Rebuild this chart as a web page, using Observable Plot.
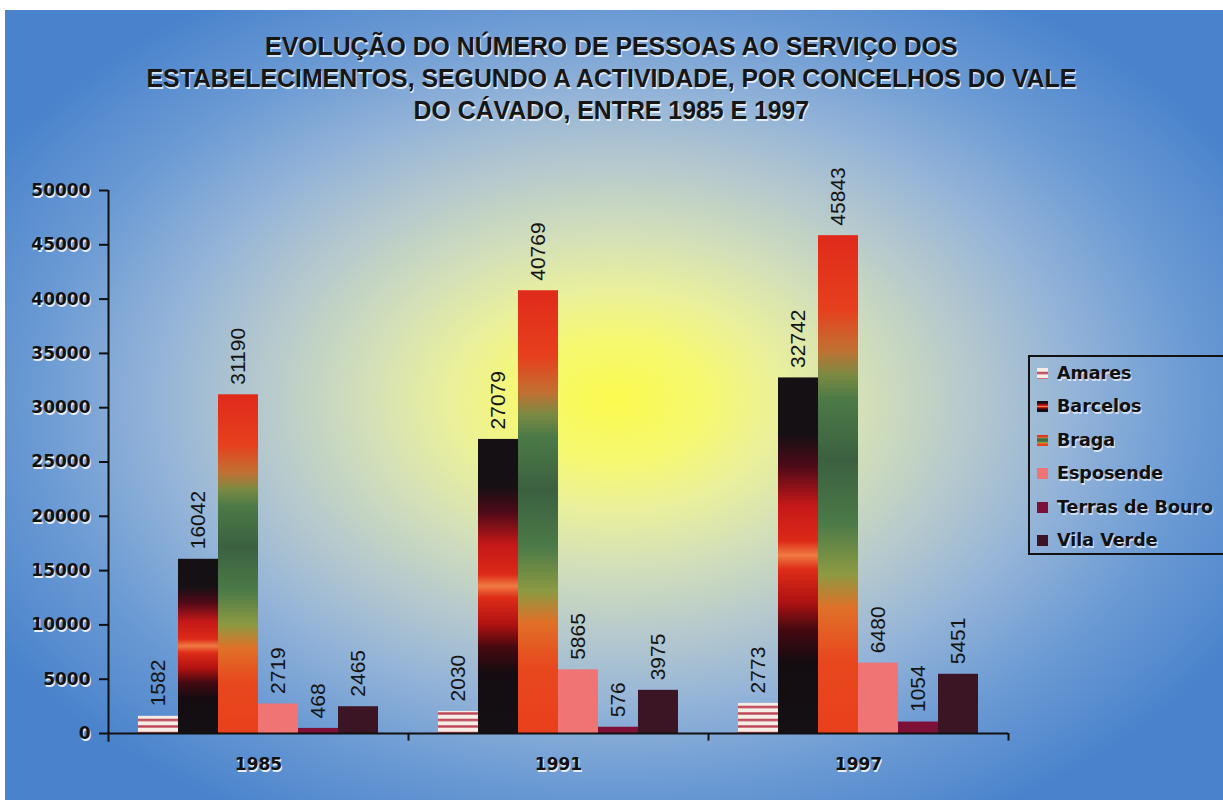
<!DOCTYPE html>
<html>
<head>
<meta charset="utf-8">
<script src="https://cdn.jsdelivr.net/npm/d3@7"></script>
<script src="https://cdn.jsdelivr.net/npm/@observablehq/plot@0.6"></script>
<style>
  html, body { margin: 0; padding: 0; }
  body { width: 1223px; height: 800px; overflow: hidden; position: relative; background: #fff; font-family: "Liberation Sans", Arial, sans-serif; }
  #bg { position: absolute; left: 5px; top: 10px; width: 1218px; height: 790px;
    background: radial-gradient(ellipse 720px 480px at 610px 390px, #fafa4e 0%, #f6f872 13%, #eaf09c 23%, #d2dfba 35%, #b6c9cd 49%, #93b3d8 64%, #6c9bd4 80%, #4a83cc 100%); }
  #chart { position: absolute; left: 0; top: 0; }
  #title { position: absolute; left: 0; top: 30px; width: 1223px; text-align: center;
    font-family: "Liberation Sans", Arial, sans-serif; font-weight: bold; font-size: 26px; line-height: 32px;
    color: #161616; text-shadow: 1px 2px 0 rgba(255,255,255,0.75); transform: scaleX(0.955); transform-origin: 609px 0; }
  #legend { position: absolute; left: 1028px; top: 355px; width: 205px; height: 200px; border: 2px solid #111; box-sizing: border-box; }
  .item { position: absolute; left: 7px; height: 22px; display: flex; align-items: center;
    font-family: "DejaVu Sans", sans-serif; font-weight: bold; font-size: 17.5px; color: #111;
    text-shadow: 1px 2px 0 rgba(235,240,250,0.8); white-space: nowrap; }
  .item svg { margin-right: 9px; }
</style>
</head>
<body>
<div id="bg"></div>
<div id="title">EVOLUÇÃO DO NÚMERO DE PESSOAS AO SERVIÇO DOS<br>ESTABELECIMENTOS, SEGUNDO A ACTIVIDADE, POR CONCELHOS DO VALE<br>DO CÁVADO, ENTRE 1985 E 1997</div>
<div id="chart"></div>
<div id="legend"></div>
<script>
// ---- data ----
const years = ["1985", "1991", "1997"];
const series = ["Amares", "Barcelos", "Braga", "Esposende", "Terras de Bouro", "Vila Verde"];
const amares = [1582, 2030, 2773];
const barcelos = [16042, 27079, 32742];
const braga = [31190, 40769, 45843];
const esposende = [2719, 5865, 6480];
const terrasDeBouro = [468, 576, 1054];
const vilaVerde = [2465, 3975, 5451];
const yTicks = [0, 5000, 10000, 15000, 20000, 25000, 30000, 35000, 40000, 45000, 50000];

const seriesValues = [amares, barcelos, braga, esposende, terrasDeBouro, vilaVerde];
const rows = years.flatMap((year, i) => series.map((s, j) => ({year, series: s, value: seriesValues[j][i]})));

// fills (gradients / patterns defined below)
const fills = ["url(#fAmares)", "url(#fBarcelos)", "url(#fBraga)", "#f07474", "#7c1036", "#3b1524"];

const ns = "http://www.w3.org/2000/svg";
function el(name, attrs, children = []) {
  const e = document.createElementNS(ns, name);
  for (const k in attrs) e.setAttribute(k, attrs[k]);
  children.forEach(c => e.appendChild(c));
  return e;
}
function gradient(id, stops) {
  return el("linearGradient", {id, x1: 0, y1: 0, x2: 0, y2: 1},
    stops.map(([o, c]) => el("stop", {offset: o, "stop-color": c})));
}
function defsMark() {
  return el("defs", {}, [
    el("pattern", {id: "fAmares", patternUnits: "userSpaceOnUse", width: 10, height: 6.5}, [
      el("rect", {x: 0, y: 0, width: 10, height: 6.5, fill: "#f6eee6"}),
      el("rect", {x: 0, y: 3.8, width: 10, height: 2.4, fill: "#bd4455"})
    ]),
    gradient("fBarcelos", [
      [0, "#141014"], [0.16, "#161014"], [0.25, "#4e0a18"], [0.36, "#c51818"], [0.46, "#dc2a18"],
      [0.5, "#f07a42"], [0.54, "#de2c18"], [0.63, "#b01212"], [0.71, "#440910"], [0.8, "#140c10"], [1, "#141014"]
    ]),
    gradient("fBraga", [
      [0, "#e02a1a"], [0.15, "#e6401e"], [0.23, "#c27032"], [0.28, "#7c8a42"], [0.33, "#4c7a47"],
      [0.45, "#3b6040"], [0.58, "#4c7a48"], [0.68, "#8c9a42"], [0.75, "#e07028"], [0.85, "#e8481e"], [1, "#e8401c"]
    ])
  ]);
}

const labelFont = "DejaVu Sans, sans-serif";
const chart = Plot.plot({
  width: 1223,
  height: 800,
  marginLeft: 108,
  marginRight: 215,
  marginTop: 190,
  marginBottom: 67,
  style: {background: "transparent", overflow: "visible"},
  fx: {domain: years, padding: 0, axis: null, label: null},
  x: {domain: series, paddingInner: 0, paddingOuter: 0.75, axis: null},
  y: {domain: [0, 50000], axis: null},
  color: {domain: series, range: fills},
  marks: [
    defsMark,
    Plot.barY(rows, {fx: "year", x: "series", y: "value", fill: "series", inset: 0}),
    Plot.text(rows, {fx: "year", x: "series", y: "value", text: d => String(d.value), rotate: -90, textAnchor: "start", dy: -10,
      fontSize: 21, fontFamily: "Liberation Sans, Arial, sans-serif", fill: "#151515"}),
    // x axis line
    Plot.ruleY([0], {stroke: "#111", strokeWidth: 2}),
    // y axis line (left of first facet)
    Plot.ruleX([years[0]], {fx: d => d, x: () => series[0], dx: -50, y1: -800, y2: 50000, stroke: "#111", strokeWidth: 2}),
    // group boundary ticks
    Plot.ruleX(years, {fx: d => d, x: () => series[series.length - 1], dx: 50, y1: -700, y2: 0, stroke: "#111", strokeWidth: 2}),
    // y axis labels: shadow + main
    Plot.axisY({ticks: yTicks, tickSize: 0, tickPadding: 18, dx: 1, dy: 2, tickFormat: d => String(d), label: null,
      fontSize: 17, fontWeight: "bold", fontFamily: labelFont, fill: "#e8eef6"}),
    Plot.axisY({ticks: yTicks, tickSize: 9, tickPadding: 9, tickFormat: d => String(d), label: null, stroke: "#111", strokeWidth: 2,
      fontSize: 17, fontWeight: "bold", fontFamily: labelFont, fill: "#111"}),
    // fx labels: shadow + main
    Plot.axisFx({anchor: "bottom", tickSize: 0, tickPadding: 24, dx: 1, dy: 2, label: null,
      fontSize: 17, fontWeight: "bold", fontFamily: labelFont, fill: "#e8eef6"}),
    Plot.axisFx({anchor: "bottom", tickSize: 0, tickPadding: 24, label: null,
      fontSize: 17, fontWeight: "bold", fontFamily: labelFont, fill: "#111"})
  ]
});
document.getElementById("chart").appendChild(chart);

// legend
const legend = document.getElementById("legend");
const itemY = [373, 406, 440, 473, 507, 540];
series.forEach((s, i) => {
  const item = document.createElement("div");
  item.className = "item";
  item.style.top = (itemY[i] - 355 - 2 - 11) + "px";
  const sw = el("svg", {width: 11, height: 11}, [el("rect", {x: 0, y: 0, width: 11, height: 11, fill: fills[i]})]);
  item.appendChild(sw);
  item.appendChild(document.createTextNode(s));
  legend.appendChild(item);
});
</script>
</body>
</html>
